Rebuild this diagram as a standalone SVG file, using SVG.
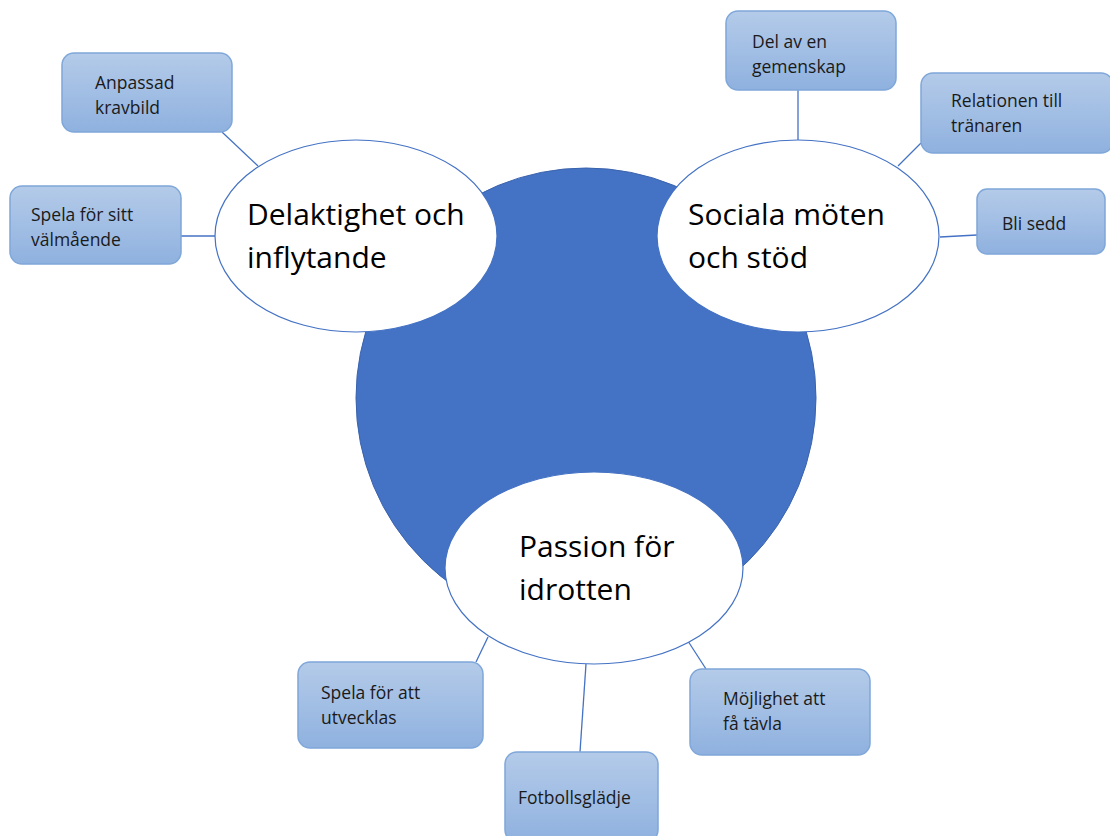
<svg xmlns="http://www.w3.org/2000/svg" width="1110" height="836" viewBox="0 0 1110 836">
<style>
.box{fill:url(#g);stroke:#7fa7d9;stroke-width:1.5}
.ell{fill:#ffffff;stroke:#4472c4;stroke-width:1.2}
.con{stroke:#4472c4;stroke-width:1.3;fill:none}
.bt{font-family:"Open Sans","Liberation Sans",sans-serif;font-size:17.5px;fill:#1a1a1a}
.et{font-family:"Open Sans","Liberation Sans",sans-serif;font-size:30px;fill:#000}
</style>
<defs>
<linearGradient id="g" x1="0" y1="0" x2="0" y2="1">
<stop offset="0" stop-color="#b4cbe9"/>
<stop offset="1" stop-color="#8fb1df"/>
</linearGradient>
</defs>
<rect width="1110" height="836" fill="#ffffff"/>
<g id="center"><circle cx="586" cy="398" r="230" fill="#4472c4" stroke="#3a63ad" stroke-width="1"/></g>
<g id="connectors">
<line class="con" x1="222" y1="132" x2="258" y2="166"/>
<line class="con" x1="181" y1="236" x2="215" y2="236"/>
<line class="con" x1="798" y1="90" x2="798" y2="140"/>
<line class="con" x1="921" y1="143" x2="898" y2="166"/>
<line class="con" x1="940" y1="237" x2="977" y2="235"/>
<line class="con" x1="476" y1="662" x2="488" y2="637"/>
<line class="con" x1="586" y1="664" x2="580" y2="752"/>
<line class="con" x1="686" y1="638" x2="706" y2="669"/>
</g>
<g id="delaktighet"><ellipse class="ell" cx="356" cy="236" rx="141" ry="96"/><text class="et" x="247" y="225">Delaktighet och</text><text class="et" x="247" y="268">inflytande</text></g>
<g id="sociala"><ellipse class="ell" cx="798" cy="236" rx="141" ry="96"/><text class="et" x="688" y="225">Sociala möten</text><text class="et" x="688" y="268">och stöd</text></g>
<g id="passion"><ellipse class="ell" cx="594" cy="568" rx="149" ry="96"/><text class="et" x="519" y="557">Passion för</text><text class="et" x="519" y="600">idrotten</text></g>
<g id="anpassad"><rect class="box" x="62" y="53" width="170" height="79" rx="12"/><text class="bt" x="95" y="89">Anpassad</text><text class="bt" x="95" y="114">kravbild</text></g>
<g id="spela-sitt"><rect class="box" x="10" y="186" width="171" height="78" rx="12"/><text class="bt" x="31" y="221">Spela för sitt</text><text class="bt" x="31" y="246">välmående</text></g>
<g id="del-av"><rect class="box" x="726" y="11" width="170" height="79" rx="12"/><text class="bt" x="752" y="48">Del av en</text><text class="bt" x="752" y="73">gemenskap</text></g>
<g id="relationen"><rect class="box" x="921" y="73" width="192" height="80" rx="12"/><text class="bt" x="951" y="107">Relationen till</text><text class="bt" x="951" y="132">tränaren</text></g>
<g id="bli-sedd"><rect class="box" x="977" y="189" width="128" height="65" rx="10"/><text class="bt" x="1002" y="230">Bli sedd</text></g>
<g id="spela-att"><rect class="box" x="298" y="662" width="185" height="86" rx="12"/><text class="bt" x="321" y="699">Spela för att</text><text class="bt" x="321" y="724">utvecklas</text></g>
<g id="fotboll"><rect class="box" x="505" y="752" width="153" height="90" rx="12"/><text class="bt" x="518" y="804">Fotbollsglädje</text></g>
<g id="mojlighet"><rect class="box" x="690" y="669" width="180" height="86" rx="12"/><text class="bt" x="723" y="705">Möjlighet att</text><text class="bt" x="723" y="730">få tävla</text></g>
</svg>
